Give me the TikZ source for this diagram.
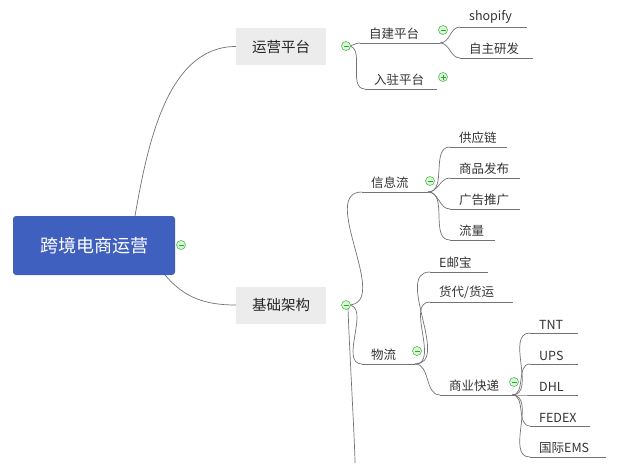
\documentclass[tikz,border=0pt]{standalone}
\usepackage{fontspec}
\setmainfont{Noto Sans CJK SC}
\begin{document}
\begin{tikzpicture}[x=1pt,y=-1pt,
  conn/.style={draw=black!55,line width=0.7pt},
  lbl/.style={anchor=south west,inner sep=1pt,font=\fontsize{12.5}{14}\selectfont,text=black!80},
  tbox/.style={fill=gray!15,minimum width=90pt,minimum height=37pt,font=\fontsize{14.5}{16}\selectfont,text=black!85},
  tog/.style={circle,draw=green!45!black!60,fill=green!20!white,line width=0.6pt,minimum size=9pt,inner sep=0pt}]
\useasboundingbox (0,0) rectangle (634,463);
\newcommand{\leaf}[6]{% name, x1, x2, y, text, parent
  \coordinate (#1-s) at (#2,#4); \coordinate (#1-e) at (#3,#4);
  \draw[conn] (#1-s) -- (#1-e);
  \draw[conn] (#6) to[out=0,in=180] (#1-s);
  \node[lbl] (#1) at ([xshift=8pt,yshift=2pt]#1-s) {#5};}
\newcommand{\tg}[3]{\node[tog] (#1) at (#2,#3) {};
  \draw[green!40!black!70,line width=0.7pt] ([xshift=-2.5pt]#1.center) -- ([xshift=2.5pt]#1.center);}
\newcommand{\tgp}[3]{\tg{#1}{#2}{#3}\draw[green!40!black!70,line width=0.7pt] ([yshift=-2.5pt]#1.center) -- ([yshift=2.5pt]#1.center);}
% root
\node[fill={rgb,255:red,64;green,96;blue,192},rounded corners=3pt,minimum width=162pt,minimum height=59pt,text=white,font=\fontsize{18}{20}\selectfont] (root) at (94,245.5) {跨境电商运营};
\tg{rt}{181}{245}
\node[tbox] (yy) at (281,46.5) {运营平台};
\node[tbox] (jc) at (281,305) {基础架构};
\coordinate (r1) at (135,216); \coordinate (r2) at (165,275);
\draw[conn] (r1) to[out=80,in=180,looseness=0.9] (yy.west);
\draw[conn] (r2) to[out=-50,in=180] (jc.west);
\coordinate (p1) at (348,46);
\coordinate (p2) at (348,305);
\leaf{zj}{360}{440}{43}{自建平台}{p1}
\leaf{rz}{365}{437}{89}{入驻平台}{p1}
\leaf{sh}{460}{527}{27}{shopify}{zj-e}
\leaf{zz}{460}{533}{58}{自主研发}{zj-e}
\leaf{xx}{362}{428}{192}{信息流}{p2}
\leaf{wl}{362}{415}{364}{物流}{p2}
\coordinate (dn) at (355,463);
\draw[conn] (p2) to[out=-90,in=90,looseness=0.3] (dn);
\leaf{gy}{450}{507}{147}{供应链}{xx-e}
\leaf{sp}{450}{520}{178}{商品发布}{xx-e}
\leaf{gg}{450}{520}{209}{广告推广}{xx-e}
\leaf{ll}{450}{495}{240}{流量}{xx-e}
\leaf{ey}{430}{488}{272}{E邮宝}{wl-e}
\leaf{hd}{430}{513}{302}{货代/货运}{wl-e}
\leaf{sy}{440}{512}{395}{商业快递}{wl-e}
\leaf{tnt}{530}{578}{333}{TNT}{sy-e}
\leaf{ups}{530}{578}{364}{UPS}{sy-e}
\leaf{dhl}{530}{578}{395}{DHL}{sy-e}
\leaf{fx}{530}{590}{426}{FEDEX}{sy-e}
\leaf{ems}{530}{606}{457}{国际EMS}{sy-e}
\tg{t1}{346}{46}
\tg{t2}{346}{305}
\tg{t3}{443}{30}
\tgp{t4}{443}{77}
\tg{t5}{430}{181}
\tg{t6}{417}{351}
\tg{t7}{514}{382}
\end{tikzpicture}
\end{document}
